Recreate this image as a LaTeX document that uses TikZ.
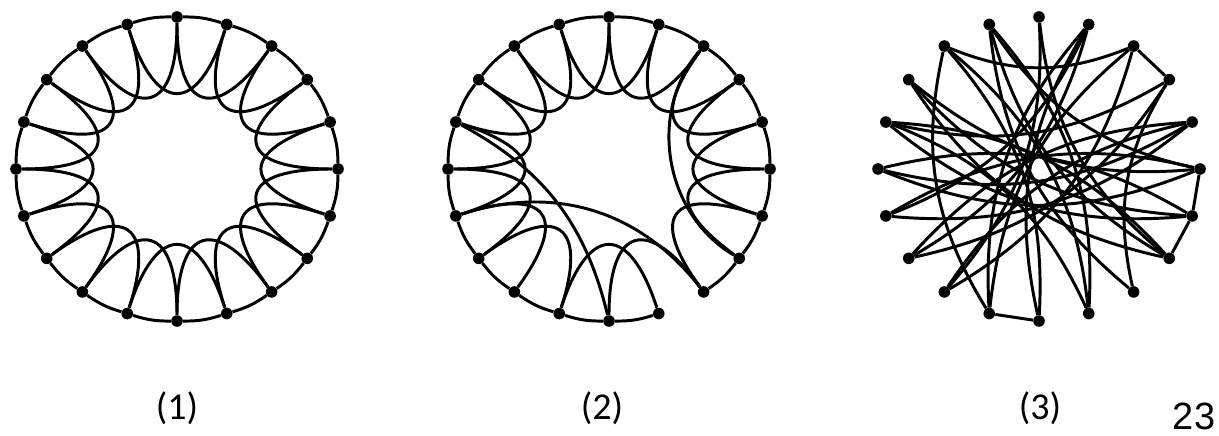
\documentclass[tikz,border=0pt]{standalone}
\usepackage{fontspec}
\setmainfont{Carlito}
\newfontfamily\numfont{Liberation Sans}
\begin{document}
\begin{tikzpicture}[x=0.025cm,y=0.025cm,
    dot/.style={circle,fill=black,inner sep=0pt,minimum size=0.29cm},
    edge/.style={line width=2.1pt,black},
    lbl/.style={font=\fontsize{27}{32}\selectfont}]
  \useasboundingbox (0,0) rectangle (1219,435);
  % the three rings of 20 vertices
  \foreach \i in {0,...,19}{
    \node[dot] (a\i) at ({177+161*cos(90-18*\i)},{266+152*sin(90-18*\i)}) {};
    \node[dot] (b\i) at ({609+161*cos(90-18*\i)},{266+152*sin(90-18*\i)}) {};
    \node[dot] (c\i) at ({1039+161*cos(90-18*\i)},{266+152*sin(90-18*\i)}) {};
  }
  % (1) regular lattice
  \foreach \i in {0,...,19}{
    \pgfmathtruncatemacro\j{mod(\i+1,20)}
    \pgfmathtruncatemacro\k{mod(\i+2,20)}
    \draw[edge] (a\i) to[bend left=9] (a\j);
    \draw[edge] (a\i) .. controls +({270-18*\i}:95) and +({270-18*\k}:95) .. (a\k);
  }
  % (2) a few rewired links
  \foreach \i in {0,...,7,9,10,...,19}{
    \pgfmathtruncatemacro\j{mod(\i+1,20)}
    \draw[edge] (b\i) to[bend left=9] (b\j);
  }
  \foreach \i in {0,...,6,8,9,11,12,...,19}{
    \pgfmathtruncatemacro\k{mod(\i+2,20)}
    \draw[edge] (b\i) .. controls +({270-18*\i}:95) and +({270-18*\k}:95) .. (b\k);
  }
  \draw[edge] (b14) to[bend left=35] (b8);
  \draw[edge] (b16) to[bend left=24] (b10);
  \draw[edge] (b2) to[bend right=50] (b7);
  % (3) random graph
  \foreach \i/\j in {2/3,5/6,6/7,10/11}
    \draw[edge] (c\i) -- (c\j);
  \foreach \i/\j in {3/8,18/2,0/7,12/0,1/10,1/11,13/1,14/1,
      12/2,4/12,13/3,4/13,14/4,5/14,15/5,6/15,16/3,16/6,7/16,9/16,17/5,17/7,
      9/18,10/18,19/7,19/8,9/19,2/11,15/4,17/6,18/11,19/5}
    \draw[edge] (c\i) to[bend right=22] (c\j);
  % captions
  \node[lbl] (cap1) at (177,27) {(1)};
  \node[lbl] (cap2) at (602,27) {(2)};
  \node[lbl] (cap3) at (1040,27) {(3)};
  \node[font=\numfont\fontsize{27}{32}\selectfont] (pg) at (1194,19) {23};
\end{tikzpicture}
\end{document}
